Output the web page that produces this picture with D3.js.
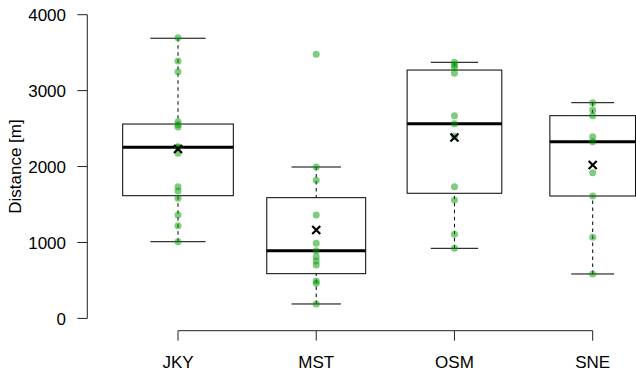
<!DOCTYPE html>
<html>
<head>
<meta charset="utf-8">
<script src="https://cdn.jsdelivr.net/npm/d3@7"></script>
<style>
  body { margin: 0; background: #fff; }
  svg { display: block; }
  text { font-family: "Liberation Sans", Arial, sans-serif; }
</style>
</head>
<body>
<div id="chart"></div>
<script>
// groups
let categories = ["JKY", "MST", "OSM", "SNE"];

// raw distances per group
let pts_jky = [3697, 3390, 3249, 2590, 2550, 2520, 2260, 2253, 2174, 1735, 1678, 1582, 1362, 1221, 1010];
let pts_mst = [3478, 1994, 1819, 1362, 989, 892, 813, 756, 703, 493, 462, 190];
let pts_osm = [3373, 3337, 3302, 3228, 2670, 2564, 2400, 1735, 1559, 1107, 923];
let pts_sne = [2841, 2745, 2670, 2393, 2327, 1919, 1612, 1068, 585];
let points = [pts_jky, pts_mst, pts_osm, pts_sne];

// box stats
let lower = [1010, 190, 923, 585];
let q1 = [1616, 589, 1648, 1612];
let median = [2253, 892, 2564, 2327];
let q3 = [2560, 1590, 3271, 2670];
let upper = [3690, 1994, 3373, 2841];
let means = [2230, 1165, 2382, 2020];

let y_ticks = [0, 1000, 2000, 3000, 4000];

let w = 636, h = 375;
let font_size = 17;
let svg = d3.select("#chart").append("svg")
    .attr("width", w)
    .attr("height", h);

let y = d3.scaleLinear().domain([0, 4000]).range([318.4, 14.7]);
let x = d3.scalePoint().domain(categories).range([178, 592.7]);

// varwidth boxes: width ~ sqrt(n)
let max_n = d3.max(points, d => d.length);
let half_w = i => 55.3 * Math.sqrt(points[i].length / max_n);

// y axis
let y_axis_x = 87.3;
svg.append("line")
    .attr("x1", y_axis_x).attr("x2", y_axis_x)
    .attr("y1", y(0)).attr("y2", y(4000))
    .attr("stroke", "#222").attr("stroke-width", 1);
y_ticks.forEach(t => {
    svg.append("line")
        .attr("x1", y_axis_x - 10).attr("x2", y_axis_x)
        .attr("y1", y(t)).attr("y2", y(t))
        .attr("stroke", "#222");
    svg.append("text")
        .attr("x", 66).attr("y", y(t))
        .attr("dy", "0.36em")
        .attr("text-anchor", "end")
        .attr("font-size", font_size)
        .text(t);
});
svg.append("text")
    .attr("transform", "translate(21," + ((y(0) + y(4000)) / 2) + ") rotate(-90)")
    .attr("text-anchor", "middle")
    .attr("font-size", font_size)
    .text("Distance [m]");

// x axis
let x_axis_y = 330.7;
svg.append("line")
    .attr("x1", x(categories[0])).attr("x2", x(categories[categories.length - 1]))
    .attr("y1", x_axis_y).attr("y2", x_axis_y)
    .attr("stroke", "#222");
categories.forEach(c => {
    svg.append("line")
        .attr("x1", x(c)).attr("x2", x(c))
        .attr("y1", x_axis_y).attr("y2", x_axis_y + 10)
        .attr("stroke", "#222");
    svg.append("text")
        .attr("x", x(c)).attr("y", 368)
        .attr("text-anchor", "middle")
        .attr("font-size", font_size)
        .text(c);
});

// boxes
categories.forEach((c, i) => {
    let cx = x(c);
    let hw = half_w(i);
    let g = svg.append("g");
    // whiskers
    [[upper[i], q3[i]], [lower[i], q1[i]]].forEach(p => {
        g.append("line")
            .attr("x1", cx).attr("x2", cx)
            .attr("y1", y(p[0])).attr("y2", y(p[1]))
            .attr("stroke", "#000")
            .attr("stroke-dasharray", "3.5,3.5");
        g.append("line")
            .attr("x1", cx - hw / 2).attr("x2", cx + hw / 2)
            .attr("y1", y(p[0])).attr("y2", y(p[0]))
            .attr("stroke", "#000");
    });
    g.append("rect")
        .attr("x", cx - hw).attr("width", hw * 2)
        .attr("y", y(q3[i])).attr("height", y(q1[i]) - y(q3[i]))
        .attr("fill", "none")
        .attr("stroke", "#000");
    g.append("line")
        .attr("x1", cx - hw).attr("x2", cx + hw)
        .attr("y1", y(median[i])).attr("y2", y(median[i]))
        .attr("stroke", "#000")
        .attr("stroke-width", 3);
});

// points
categories.forEach((c, i) => {
    svg.append("g").selectAll("circle")
        .data(points[i])
        .enter()
        .append("circle")
        .attr("cx", x(c))
        .attr("cy", d => y(d))
        .attr("r", 3.5)
        .attr("fill", "rgb(0,153,0)")
        .attr("fill-opacity", 0.5);
});

// mean crosses
categories.forEach((c, i) => {
    let cx = x(c), cy = y(means[i]), s = 4;
    svg.append("path")
        .attr("d", `M${cx - s},${cy - s}L${cx + s},${cy + s}M${cx - s},${cy + s}L${cx + s},${cy - s}`)
        .attr("stroke", "#000")
        .attr("stroke-width", 2.2);
});
</script>
</body>
</html>
